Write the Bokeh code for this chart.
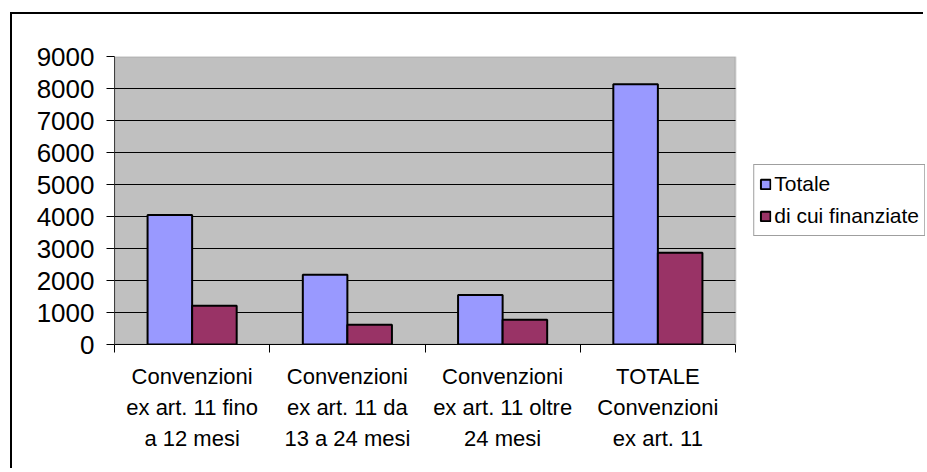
from bokeh.plotting import figure
from bokeh.models import ColumnDataSource, Range1d, FixedTicker, Legend, LegendItem, BoxAnnotation
from bokeh.transform import dodge
from bokeh.embed import file_html
from bokeh.resources import INLINE

categories = [
    "Convenzioni\nex art. 11 fino\na 12 mesi",
    "Convenzioni\nex art. 11 da\n13 a 24 mesi",
    "Convenzioni\nex art. 11 oltre\n24 mesi",
    "TOTALE\nConvenzioni\nex art. 11",
]
totale = [4050, 2180, 1550, 8130]
finanziate = [1210, 620, 770, 2870]
series_names = ["Totale", "di cui finanziate"]
y_ticks = [0, 1000, 2000, 3000, 4000, 5000, 6000, 7000, 8000, 9000]

FONT = "Liberation Sans"
BW = 0.287
n = len(categories)
centers = [i + 0.5 for i in range(n)]
Y_MAX = 9000

# layout (pixels): plot area 621 px wide inside a frame that also holds the legend
W, H = 913, 456
BL, BT, BB = 102, 42, 126
AREA_W = 621
FRAME_W = W - BL
x_end = n * FRAME_W / AREA_W

src = ColumnDataSource(dict(x=centers, totale=totale, finanziate=finanziate))

p = figure(width=W, height=H, x_range=Range1d(0, x_end), y_range=Range1d(0, Y_MAX),
           output_backend="svg", toolbar_location=None,
           min_border_left=BL, min_border_top=BT, min_border_right=0, min_border_bottom=BB)
p.styles = {"border-left": "2px solid #000000", "border-top": "2px solid #000000",
            "margin-left": "10px", "margin-top": "12px"}
p.background_fill_color = "white"
p.border_fill_color = "white"
p.outline_line_color = None

area = BoxAnnotation(left=0, right=n, bottom=0, top=Y_MAX, fill_color="#C0C0C0", fill_alpha=1,
                     line_color="#808080", line_width=2, level="image")
p.add_layout(area)

r1 = p.vbar(x=dodge("x", -BW / 2), top="totale", width=BW, source=src,
            fill_color="#9999FF", line_color="black", line_width=2)
r2 = p.vbar(x=dodge("x", BW / 2), top="finanziate", width=BW, source=src,
            fill_color="#993366", line_color="black", line_width=2)

# grid
p.xgrid.grid_line_color = None
try:
    p.ygrid.cross_bounds = (0, n)
    p.ygrid.ticker = FixedTicker(ticks=y_ticks)
    p.ygrid.grid_line_color = "black"
    p.ygrid.grid_line_width = 1
except AttributeError:
    p.ygrid.grid_line_color = None
    p.segment(x0=0, x1=n, y0=y_ticks, y1=y_ticks, line_color="black", line_width=1, level="underlay")

# y axis
ya = p.yaxis[0]
ya.ticker = FixedTicker(ticks=y_ticks)
ya.axis_line_color = "#404040"
ya.axis_line_width = 1
ya.major_tick_out = 8
ya.major_tick_in = 0
ya.minor_tick_line_color = None
ya.major_label_text_font = FONT
ya.major_label_text_font_size = "26px"
ya.major_label_text_color = "black"
ya.major_label_standoff = 12

# x axis: labels at category centres, ticks at category boundaries
xa = p.xaxis[0]
xa.bounds = (0, n)
xa.ticker = FixedTicker(ticks=centers, minor_ticks=list(range(n + 1)))
xa.major_label_overrides = {c: lab for c, lab in zip(centers, categories)}
xa.major_tick_line_color = None
xa.minor_tick_line_color = "black"
xa.minor_tick_out = 8
xa.minor_tick_in = 0
xa.axis_line_color = "black"
xa.major_label_text_font = FONT
xa.major_label_text_font_size = "22px"
xa.major_label_text_color = "black"
xa.major_label_text_line_height = 1.25
xa.major_label_standoff = 11

legend = Legend(items=[LegendItem(label=series_names[0], renderers=[r1]),
                       LegendItem(label=series_names[1], renderers=[r2])],
                location="center_right", orientation="vertical",
                label_text_font=FONT, label_text_font_size="21px", label_text_color="black",
                glyph_width=12, glyph_height=12, label_standoff=3, label_height=28,
                spacing=4, padding=5, margin=0,
                border_line_color="#404040", border_line_width=1,
                background_fill_color="white", background_fill_alpha=1)
p.add_layout(legend, "center")

open("out.html", "w").write(file_html(p, INLINE))
